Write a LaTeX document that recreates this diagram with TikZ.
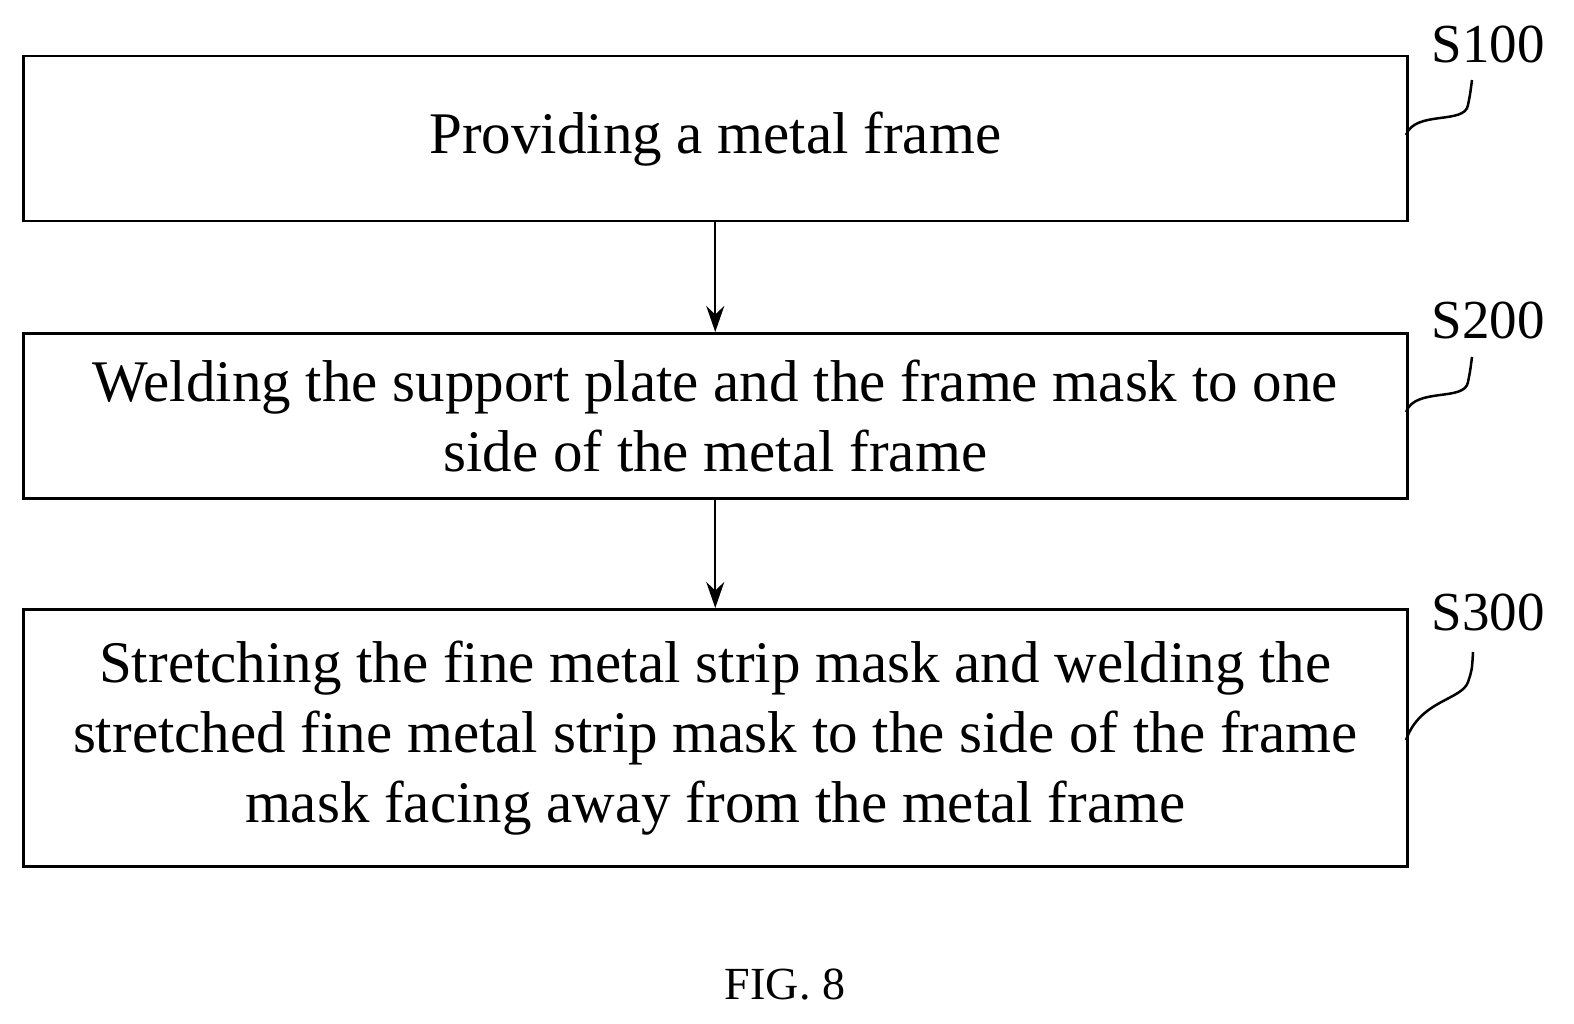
\documentclass[tikz,border=0pt]{standalone}
\usepackage{fontspec}
\setmainfont{Liberation Serif}
\usetikzlibrary{arrows.meta}
\begin{document}
\begin{tikzpicture}[x=1pt,y=-1pt,
  stepbox/.style={draw,line width=2.5pt,minimum width=1384pt,anchor=north west,inner sep=0pt,align=center,font=\fontsize{59}{70}\selectfont},
  lbl/.style={font=\fontsize{55}{60}\selectfont},
  arr/.style={line width=2.2pt,-{Stealth[length=26pt,width=18pt]}},
  sq/.style={line width=2.5pt}]
\useasboundingbox (0,0) rectangle (1574,1024);
\node[stepbox,minimum height=165pt] (b1) at (22,55) {Providing a metal frame};
\node[stepbox,minimum height=165pt] (b2) at (22,332) {Welding the support plate and the frame mask to one\\side of the metal frame};
\node[stepbox,minimum height=257pt] (b3) at (22,608) {Stretching the fine metal strip mask and welding the\\stretched fine metal strip mask to the side of the frame\\mask facing away from the metal frame};
\draw[arr] (b1.south) -- (b2.north);
\draw[arr] (b2.south) -- (b3.north);
\node[lbl] (l1) at (1488,44) {S100};
\node[lbl] (l2) at (1488,320) {S200};
\node[lbl] (l3) at (1488,612) {S300};
\coordinate (c1) at (1406,135);
\coordinate (c2) at (1406,412);
\coordinate (c3) at (1406,740);
\draw[sq] (c1) .. controls (1415,110) and (1465,125) .. (1468,105) .. controls (1470,95) .. (1472,80);
\draw[sq] (c2) .. controls (1415,387) and (1465,402) .. (1468,382) .. controls (1470,372) .. (1472,357);
\draw[sq] (c3) .. controls (1420,700) and (1462,700) .. (1468,682) .. controls (1472,670) .. (1473,652);
\node[font=\fontsize{46}{50}\selectfont] (fig) at (785,985) {FIG. 8};
\end{tikzpicture}
\end{document}
